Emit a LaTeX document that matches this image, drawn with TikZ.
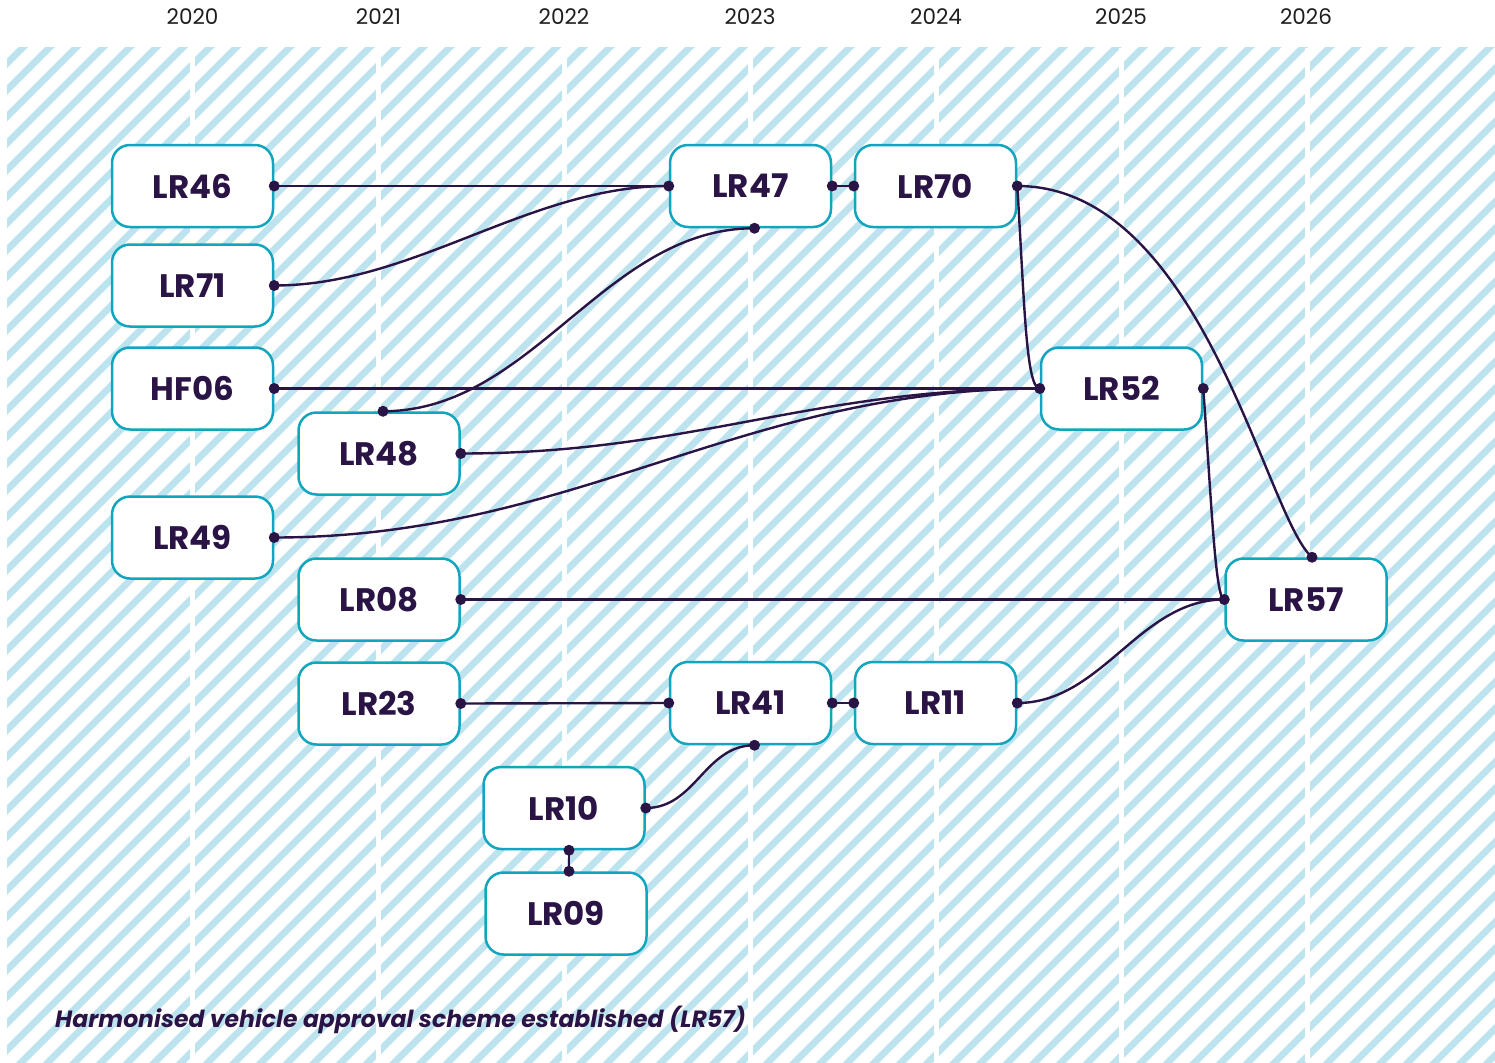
\documentclass[tikz,border=0pt]{standalone}
\usepackage{fontspec}
\setmainfont{Poppins}
\definecolor{hatchc}{HTML}{BCE3EE}
\definecolor{boxc}{HTML}{12A6BE}
\definecolor{inkc}{HTML}{2A1446}
\definecolor{yearc}{HTML}{1E1E1E}
\tikzset{
  box/.style={draw=boxc, line width=2.5, fill=white, rounded corners=18,
    minimum width=161, minimum height=82, inner sep=0, text=inkc,
    font=\fontsize{32.5}{32.5}\selectfont\bfseries},
  year/.style={text=yearc, font=\fontsize{21.5}{21.5}\selectfont, inner sep=0},
  link/.style={draw=inkc, line width=2.4},
  dotc/.style={fill=inkc}
}
\begin{document}
\begin{tikzpicture}[x=1pt,y=-1pt]
\useasboundingbox (0,0) rectangle (1495,1062);
\fill[white] (0,0) rectangle (1495,1062);
% hatch
\begin{scope}
  \clip (7,48) rectangle (1495,1062);
  \foreach \i in {-2,...,93}{
    \pgfmathsetmacro\cc{97+\i*26.667}
    \draw[hatchc, line width=6.8] (\cc,0) -- ({\cc-1100},1100);
  }
\end{scope}
\foreach \x in {192.5,378.5,564,750,936,1121,1307}{
  \fill[white] ({\x-2.5},48) rectangle ({\x+2.5},1062);
}
% years
\node[year] (y2020) at (192.5,17) {2020};
\node[year] (y2021) at (378.5,17) {2021};
\node[year] (y2022) at (564,17) {2022};
\node[year] (y2023) at (750,17) {2023};
\node[year] (y2024) at (936,17) {2024};
\node[year] (y2025) at (1121,17) {2025};
\node[year] (y2026) at (1306,17) {2026};
% boxes
\node[box] (LR46) at (192.5,186) {LR46};
\node[box] (LR71) at (192.5,285.5) {LR71};
\node[box] (HF06) at (192.5,388.5) {HF06};
\node[box] (LR48) at (379,453.5) {LR48};
\node[box] (LR49) at (192.5,537.5) {LR49};
\node[box] (LR08) at (379,599.5) {LR08};
\node[box] (LR23) at (379,703.5) {LR23};
\node[box] (LR10) at (564,808) {LR10};
\node[box] (LR09) at (566,913.5) {LR09};
\node[box] (LR41) at (750.5,703) {LR41};
\node[box] (LR11) at (935.5,703) {LR11};
\node[box] (LR47) at (750.5,186) {LR47};
\node[box] (LR70) at (935.5,186) {LR70};
\node[box] (LR52) at (1121.5,388.5) {LR52};
\node[box] (LR57) at (1306,599.5) {LR57};
% connectors
\coordinate (p48n) at ([xshift=4]LR48.north);
\coordinate (p47s) at ([xshift=4]LR47.south);
\coordinate (p41s) at ([xshift=4]LR41.south);
\coordinate (p10s) at ([xshift=5]LR10.south);
\coordinate (p09n) at ([xshift=3]LR09.north);
\coordinate (p57n) at ([xshift=6]LR57.north);
\path[link] (LR46.east) -- (LR47.west);
\path[link] (LR71.east) .. controls +(140,0) and +(-140,0) .. (LR47.west);
\path[link] (HF06.east) -- (LR52.west);
\path[link] (p48n) .. controls +(150,0) and +(-150,0) .. (p47s);
\path[link] (LR48.east) .. controls +(230,0) and +(-230,0) .. (LR52.west);
\path[link] (LR49.east) .. controls +(300,0) and +(-300,0) .. (LR52.west);
\path[link] (LR47.east) -- (LR70.west);
\path[link] (LR70.east) .. controls +(7,112) and +(-14,0) .. (LR52.west);
\path[link] (LR70.east) .. controls +(185,0) and +(-47,-41) .. (p57n);
\path[link] (LR52.east) .. controls +(8,110) and +(-9,0) .. (LR57.west);
\path[link] (LR08.east) -- (LR57.west);
\path[link] (LR23.east) -- (LR41.west);
\path[link] (LR41.east) -- (LR11.west);
\path[link] (LR11.east) .. controls +(85,0) and +(-85,0) .. (LR57.west);
\path[link] (LR10.east) .. controls +(50,0) and +(-50,0) .. (p41s);
\path[link] (p10s) -- (p09n);
% dots
\foreach \p in {LR46.east,LR47.west,LR71.east,HF06.east,LR52.west,p48n,p47s,
  LR48.east,LR49.east,LR47.east,LR70.west,LR70.east,p57n,LR52.east,LR57.west,
  LR08.east,LR23.east,LR41.west,LR41.east,LR11.west,LR11.east,LR10.east,p41s,p10s,p09n}{
  \fill[dotc] (\p) circle (5.5);
}
% caption
\node[anchor=base west, inner sep=0, text=inkc, font=\fontsize{23.5}{23.5}\selectfont\bfseries\itshape] (cap) at (55,1027) {Harmonised vehicle approval scheme established (LR57)};
\end{tikzpicture}
\end{document}
